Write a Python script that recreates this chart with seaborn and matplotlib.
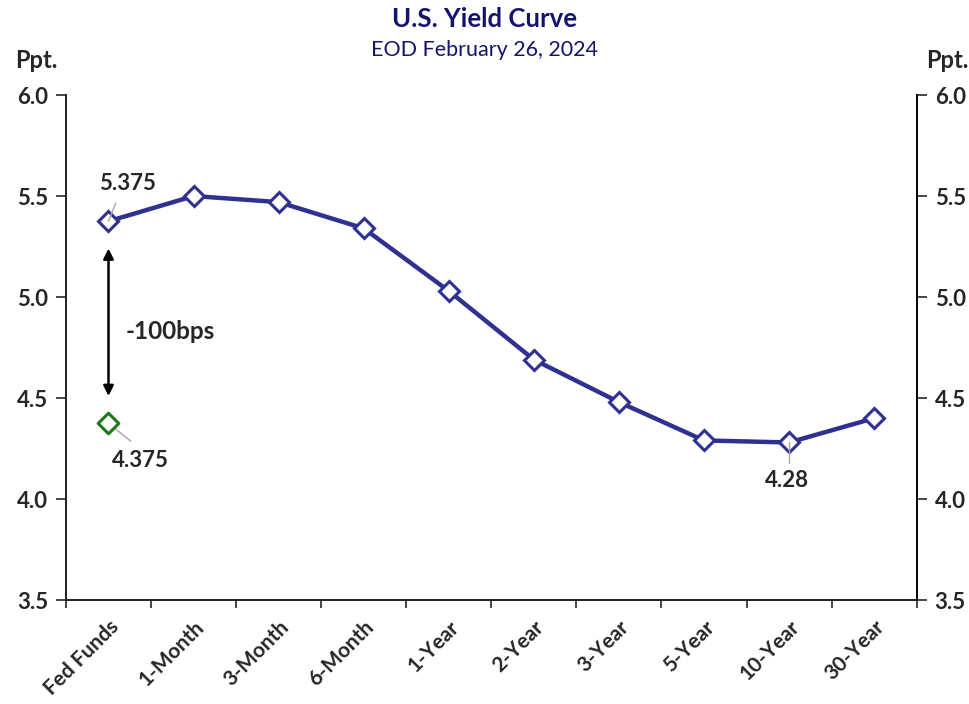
import matplotlib
matplotlib.use("Agg")
import matplotlib.pyplot as plt
import seaborn as sns
import numpy as np

# 数据
maturities = ["Fed Funds", "1-Month", "3-Month", "6-Month", "1-Year",
              "2-Year", "3-Year", "5-Year", "10-Year", "30-Year"]
yields = [5.375, 5.50, 5.47, 5.34, 5.03, 4.69, 4.48, 4.29, 4.28, 4.40]
cut_label = ["Fed Funds"]
cut_value = [4.375]
y_ticks = [3.5, 4.0, 4.5, 5.0, 5.5, 6.0]

navy = "#2E3192"
green = "#1B7A1B"
title_col = "#14146E"
leader = "#A6A6A6"

sns.set_theme(style="white")
plt.rcParams['font.family'] = ['Lato', 'DejaVu Sans']

fig = plt.figure(figsize=(9.7, 7.04), dpi=100)
ax = fig.add_axes([0.068, 0.1477, 0.877, 0.7173])

sns.lineplot(x=maturities, y=yields, sort=False, ax=ax, color=navy, linewidth=3.2,
             marker="D", markersize=10.5, markerfacecolor="white",
             markeredgecolor=navy, markeredgewidth=2.2)
sns.scatterplot(x=cut_label, y=cut_value, ax=ax, marker="D", s=110,
                facecolor="white", edgecolor=green, linewidth=2.2, zorder=5)

ax.set_xlim(-0.5, len(maturities) - 0.5)
ax.set_ylim(3.5, 6.0)
ax.set_yticks(y_ticks)
ax.set_yticklabels([f"{v:.1f}" for v in y_ticks], fontsize=16, fontweight="bold")
ax.set_xticks(range(len(maturities)))
ax.set_xticklabels(maturities, rotation=45, ha="right", rotation_mode="anchor",
                   fontsize=15, fontweight="bold")
ax.set_xticks(np.arange(-0.5, len(maturities), 1.0), minor=True)
ax.tick_params(axis="x", which="major", length=0, pad=12)
ax.tick_params(axis="x", which="minor", length=6, width=1.2, direction="out", bottom=True)
ax.tick_params(axis="y", length=7, width=1.2, direction="out", left=True, pad=6)
ax.set_xlabel("")
ax.set_ylabel("")

for s in ["left", "bottom", "right"]:
    ax.spines[s].set_color("black")
    ax.spines[s].set_linewidth(1.2)
ax.spines["top"].set_visible(False)

ax2 = ax.twinx()
ax2.set_ylim(3.5, 6.0)
ax2.set_yticks(y_ticks)
ax2.set_yticklabels([f"{v:.1f}" for v in y_ticks], fontsize=16, fontweight="bold")
ax2.tick_params(axis="y", length=7, width=1.2, direction="out", right=True, pad=6)
ax2.spines["top"].set_visible(False)
ax2.spines["right"].set_color("black")
ax2.spines["right"].set_linewidth(1.2)
ax2.grid(False)

# 数据标签与引导线
ax.plot([0.0, 0.085], [yields[0], 5.465], color=leader, lw=1.0, zorder=4)
ax.text(0.22, 5.56, "5.375", fontsize=16, fontweight="bold", ha="center", va="center")
ax.plot([0.0, 0.26], [cut_value[0], 4.287], color=leader, lw=1.0, zorder=4)
ax.text(0.38, 4.19, "4.375", fontsize=16, fontweight="bold", ha="center", va="center")
ax.plot([8.0, 8.0], [yields[8], 4.18], color=leader, lw=1.0, zorder=4)
ax.text(7.98, 4.09, "4.28", fontsize=16, fontweight="bold", ha="center", va="center")

ax.annotate("", xy=(0, 4.51), xytext=(0, 5.24),
            arrowprops=dict(arrowstyle="<|-|>", color="black", lw=1.8,
                            mutation_scale=15, shrinkA=0, shrinkB=0))
ax.text(0.2, 4.83, "-100bps", fontsize=17.5, fontweight="bold", ha="left", va="center")

fig.text(0.5, 0.973, "U.S. Yield Curve", fontsize=18.5, fontweight="bold",
         color=title_col, ha="center", va="center")
fig.text(0.5, 0.929, "EOD February 26, 2024", fontsize=15.5,
         color=title_col, ha="center", va="center")
fig.text(0.037, 0.914, "Ppt.", fontsize=17, fontweight="bold", ha="center", va="center")
fig.text(0.977, 0.914, "Ppt.", fontsize=17, fontweight="bold", ha="center", va="center")

plt.savefig("out.png", dpi=100)
